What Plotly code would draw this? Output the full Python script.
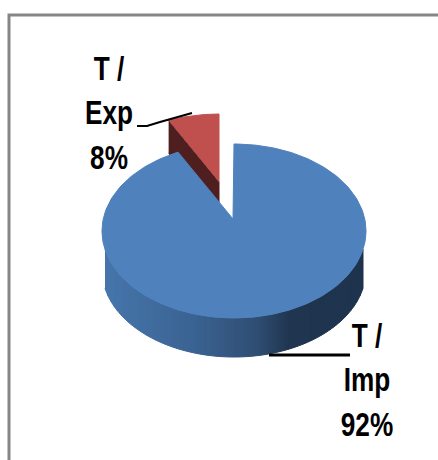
import numpy as np
import plotly.graph_objects as go

categories = ["T / Imp", "T / Exp"]
values = [92, 8]
colors_top = ["#4f81bd", "#c0504d"]
color_side_red = "#4f1f1f"
side_stops = [(0.0, (70, 118, 172)), (0.35, (58, 98, 145)), (0.58, (47, 78, 115)), (0.70, (32, 54, 80)), (1.0, (30, 51, 78))]

W, H = 438, 460
CX, CY, RX, RY, DEPTH = 234, 231, 132, 87, 39
APEX = (233, 219)
RED_APEX = (219, 182)
RED_RX, RED_RY = 119, 68
ANGLE_COMPRESS = 0.87
FONT = dict(family="Liberation Sans Narrow, Arial Narrow, Liberation Sans", size=34, color="#000000", weight="bold")

fig = go.Figure()
total = sum(values)
gap = 2 * np.pi * values[1] / total * ANGLE_COMPRESS


def add_fill(xs, ys, color):
    fig.add_trace(go.Scatter(x=list(xs), y=list(ys), mode="lines", fill="toself", fillcolor=color,
                             line=dict(color=color, width=1), hoverinfo="skip", showlegend=False))


# exploded small slice: side wall, then top
t_red = np.linspace(-gap, 0, 30)
rx_pts = RED_APEX[0] + RED_RX * np.sin(t_red)
ry_pts = RED_APEX[1] - RED_RY * np.cos(t_red)
add_fill([rx_pts[0], RED_APEX[0], RED_APEX[0], rx_pts[0]],
         [ry_pts[0], RED_APEX[1], RED_APEX[1] + 21, ry_pts[0] + 33], color_side_red)
add_fill(list(rx_pts) + [RED_APEX[0]], list(ry_pts) + [RED_APEX[1]], colors_top[1])


def side_color(f):
    for (a, ca), (b, cb) in zip(side_stops, side_stops[1:]):
        if f <= b:
            m = (f - a) / (b - a)
            c = [round(p + (q - p) * m) for p, q in zip(ca, cb)]
            return f"rgb({c[0]},{c[1]},{c[2]})"
    return f"rgb{side_stops[-1][1]}"


# main slice side wall as narrow strips for the shading
edges = np.arange(-RX + 3, RX - 1, 3)
for a, b in zip(edges[:-1], edges[1:]):
    xs = np.array([a, b])
    h = RY * np.sqrt(np.clip(1 - (xs / RX) ** 2, 0, 1))
    f = (a + RX) / (2 * RX)
    add_fill([CX + a, CX + b, CX + b, CX + a],
             [CY + h[0], CY + h[1], CY + h[1] + DEPTH, CY + h[0] + DEPTH], side_color(f))

# main slice top
t = np.linspace(0, 2 * np.pi - gap, 240)
add_fill([APEX[0]] + list(CX + RX * np.sin(t)) + [APEX[0]],
         [APEX[1]] + list(CY - RY * np.cos(t)) + [APEX[1]], colors_top[0])

# leader lines
fig.add_trace(go.Scatter(x=[137, 147, 160, 175, 192], y=[126, 126, 122, 118, 113], mode="lines",
                         line=dict(color="#000", width=2), hoverinfo="skip", showlegend=False))
fig.add_trace(go.Scatter(x=[269, 350], y=[355, 355], mode="lines",
                         line=dict(color="#000", width=3), hoverinfo="skip", showlegend=False))

# labels
label_pos = [(367, 383), (109, 116)]
for cat, v, (x, y) in zip(categories, values, label_pos):
    a, b = cat.split(" / ")
    fig.add_trace(go.Scatter(x=[x], y=[y], mode="text", text=[f"{a} /<br>{b}<br>{v}%"], textposition="middle center",
                             textfont=FONT, hoverinfo="skip", showlegend=False))

fig.update_layout(
    width=W, height=H, margin=dict(l=0, r=0, t=0, b=0), paper_bgcolor="white", plot_bgcolor="white",
    xaxis=dict(range=[0, W], visible=False, fixedrange=True),
    yaxis=dict(range=[H, 0], visible=False, fixedrange=True),
    shapes=[dict(type="rect", xref="x", yref="y", x0=9, y0=15, x1=445, y1=470,
                 line=dict(color="#868686", width=3), layer="below")],
)
post = """
document.body.style.margin = '0';
document.documentElement.style.overflow = 'hidden';
document.querySelectorAll('.textpoint text').forEach(function (t) {
  var bb = t.getBBox();
  var cx = bb.x + bb.width / 2;
  var prev = t.getAttribute('transform') || '';
  t.setAttribute('transform', prev + ' translate(' + cx + ',0) scale(0.77,1) translate(' + (-cx) + ',0)');
});
"""
fig.write_html("out.html", config=dict(displayModeBar=False), post_script=post)
